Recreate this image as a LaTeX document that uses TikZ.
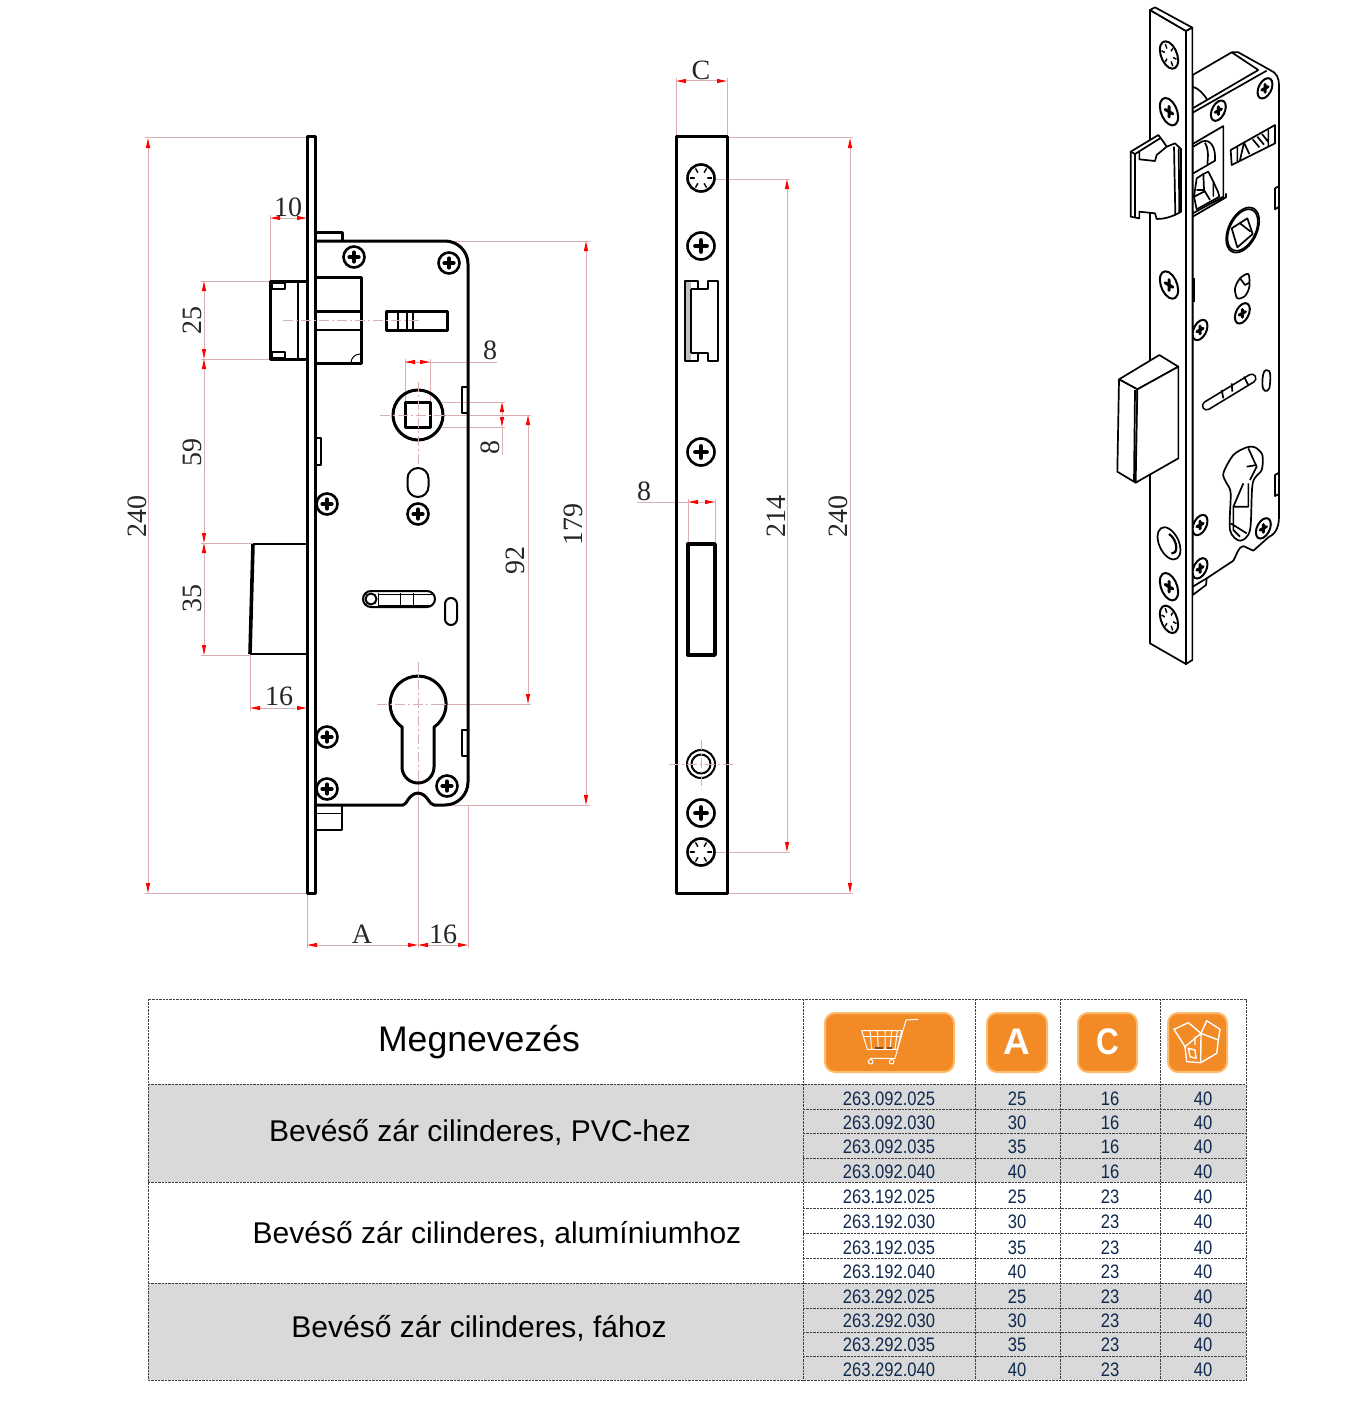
\documentclass[tikz,border=0pt]{standalone}
\usepackage{fontspec}
\setmainfont{Liberation Serif}
\newfontfamily\tabfont{Liberation Sans}
\newfontfamily\codefont[FakeStretch=0.85]{Liberation Sans}
\usetikzlibrary{arrows.meta}
\definecolor{dimpink}{HTML}{DCB0B0}
\definecolor{tabgrey}{HTML}{D9D9D9}
\definecolor{tabink}{HTML}{10294F}
\definecolor{btnfill}{HTML}{F28A26}
\definecolor{btnrim}{HTML}{FDBB6E}
\tikzset{
	lockline/.style={line width=1.5pt},
	midline/.style={line width=1pt},
	fineline/.style={line width=.5pt},
	isoline/.style={line width=.85pt},
	dimline/.style={dimpink,line width=.5pt},
	axisline/.style={dimpink,line width=.5pt,dash pattern=on 5pt off 1.5pt on 1pt off 1.5pt},
	dimlabel/.style={font=\fontsize{14}{14}\selectfont,text=black!85,inner sep=0pt},
	tabline/.style={black!75,line width=.35pt,dash pattern=on 1.2pt off .5pt},
	isoscope/.style={shift={(1100,0)},x=.16667pt,y=-.16667pt},
	btn/.style={fill=btnfill,draw=btnrim,line width=1pt,rounded corners=5pt},
	btnglyph/.style={white,line width=.5pt},
	ringline/.style={line width=1.3pt},
	crossline/.style={line width=2.2pt}
}
\newcommand{\phillips}[3][]{%
	\begin{scope}[shift={#2},#1,scale=#3]
		\draw[ringline,fill=white] (0,0) circle (1);
		\draw[crossline,line cap=round] (-.42,0)--(.42,0) (0,-.42)--(0,.42);
	\end{scope}}
\newcommand{\torx}[3][]{%
	\begin{scope}[shift={#2},#1,scale=#3]
		\draw[ringline,fill=white] (0,0) circle (1);
		\foreach \a in {0,60,...,300}{
			\draw[line width=.7pt] (\a:.82) -- (\a:.5);
			\fill (\a:.5) circle (.07);
		}
	\end{scope}}
\begin{document}
\begin{tikzpicture}[>={Stealth[red,length=5pt,width=2pt,inset=0pt]},x=.5pt,y=-.5pt,line join=round]
	\useasboundingbox (0,0) rectangle (1369,1413);
	% left view, dimensions
	\draw[dimline] (145,138)--(315,138) (145,893)--(307,893);
	\draw[dimline,<->] (148,138)--(148,893);
	\node[dimlabel,rotate=90] (dimLeftH) at (137,516) {240};
	\draw[dimline] (270,215)--(270,281) (201,281)--(270,281) (201,359)--(270,359);
	\draw[dimline,<->] (270,218)--(307,218);
	\node[dimlabel] (dimLatchOut) at (288,207) {10};
	\draw[dimline,<->] (204,281)--(204,359);
	\draw[dimline,<->] (204,359)--(204,543);
	\draw[dimline,<->] (204,543)--(204,655);
	\draw[dimline] (201,543)--(252,543) (201,655)--(250,655);
	\node[dimlabel,rotate=90] (dimLatchH) at (192,320) {25};
	\node[dimlabel,rotate=90] (dimGap) at (192,452) {59};
	\node[dimlabel,rotate=90] (dimBoltH) at (192,598) {35};
	\draw[dimline] (250,655)--(250,711);
	\draw[dimline,<->] (250,708)--(307,708);
	\node[dimlabel] (dimBoltOut) at (279,696) {16};
	\draw[dimline] (307,893)--(307,948) (468,806)--(468,948) (418,780)--(418,948);
	\draw[dimline,<->] (307,945)--(418,945);
	\draw[dimline,<->] (418,945)--(468,945);
	\node[dimlabel] (dimA) at (362,934) {A};
	\node[dimlabel] (dimBack) at (443,934) {16};
	\draw[dimline] (448,241)--(590,241) (448,805)--(590,805);
	\draw[dimline,<->] (586,241)--(586,805);
	\node[dimlabel,rotate=90] (dimBody) at (573,524) {179};
	\draw[dimline] (405,359)--(405,402) (430,359)--(430,402) (405,362)--(497,362);
	\draw[dimline,<->] (405,362)--(430,362);
	\node[dimlabel] (dimSqW) at (490,350) {8};
	\draw[dimline] (440,402)--(505,402) (440,427)--(505,427) (502,427)--(502,455);
	\draw[dimline,<->] (502,402)--(502,427);
	\node[dimlabel,rotate=90] (dimSqH) at (490,447) {8};
	\draw[dimline] (440,415)--(531,415) (440,704)--(531,704);
	\draw[dimline,<->] (528,415)--(528,704);
	\node[dimlabel,rotate=90] (dimCentre) at (515,560) {92};
	% left view, lock body
	\draw[lockline] (315,232)--(342,232)--(342,241);
	\draw[lockline] (315,241)--(445,241) arc[start angle=-90,end angle=0,radius=23]
		--(468,782) arc[start angle=0,end angle=90,radius=23]--(434,805)
		.. controls (429,805) and (428,794) .. (418,793)
		.. controls (408,794) and (407,805) .. (403,805)--(315,805);
	\draw[midline] (315,830)--(342,830)--(342,806);
	\draw[fineline] (315,813)--(342,813);
	\draw[lockline] (307,137) rectangle (315,893);
	% latch
	\draw[lockline] (307,281)--(270,281)--(270,359)--(307,359);
	\draw[midline] (298,281)--(298,359);
	\draw[midline] (272,283) rectangle (285,289) (272,352) rectangle (285,358);
	\draw[lockline] (315,277)--(361,277)--(361,363)--(315,363);
	\draw[lockline] (315,311)--(361,311);
	\draw[midline] (315,330)--(361,330);
	\draw[fineline] (351,363) arc[start angle=180,end angle=270,radius=9];
	\draw[lockline] (386,311) rectangle (447,330);
	\draw[midline] (398,311)--(398,330) (407,311)--(407,330) (413,311)--(413,330);
	\draw[axisline] (283,320)--(420,320);
	% bolt
	\draw[midline] (253,544)--(307,544) (250,654)--(307,654);
	\draw[line width=1.8pt] (253,544)--(250,654);
	% spindle
	\draw[lockline] (418,415) circle (25);
	\draw[lockline] (405,402) rectangle (430,427);
	\draw[axisline] (380,415)--(445,415) (418,382)--(418,470);
	\draw[midline] (462,387) rectangle (468,413);
	\draw[midline] (315,438) rectangle (321,465);
	\draw[midline] (418,468) arc[start angle=-90,end angle=0,radius=10.5] --(428.5,486.5)
		arc[start angle=0,end angle=180,radius=10.5] --(407.5,478.5)
		arc[start angle=180,end angle=270,radius=10.5];
	\foreach \sx/\sy in {354/257,449/263,327/504,418/514,327/737,327/789,447/786}
		\phillips{(\sx,\sy)}{10.5};
	% slot and keyhole
	\draw[midline] (371,591)--(427,591) arc[start angle=-90,end angle=90,radius=8]--(371,607)
		arc[start angle=90,end angle=270,radius=8];
	\draw[fineline] (378,594)--(432,594) (378,605)--(432,605) (378,593)--(378,606)
		(400,593)--(400,606) (413,593)--(413,606);
	\draw[midline] (371,599) circle (5.5);
	\draw[midline] (451,598) arc[start angle=-90,end angle=0,radius=6]--(457,619)
		arc[start angle=0,end angle=180,radius=6]--(445,604)
		arc[start angle=180,end angle=270,radius=6];
	\draw[lockline] (402,727) arc[start angle=125,end angle=415,radius=28]--(434,767)
		arc[start angle=0,end angle=180,radius=16]--cycle;
	\draw[axisline] (377,704)--(460,704) (418,662)--(418,780);
	\draw[midline] (462,730) rectangle (468,756);
	% middle view, dimensions
	\draw[dimline] (676,78)--(676,137) (727,78)--(727,137);
	\draw[dimline,<->] (676,81)--(727,81);
	\node[dimlabel] (dimC) at (701,70) {C};
	\draw[dimline] (727,138)--(853,138) (727,893)--(853,893);
	\draw[dimline,<->] (850,138)--(850,893);
	\node[dimlabel,rotate=90] (dimPlate) at (838,516) {240};
	\draw[dimline] (702,179)--(790,179) (702,852)--(790,852);
	\draw[dimline,<->] (787,179)--(787,852);
	\node[dimlabel,rotate=90] (dimHoles) at (776,516) {214};
	\draw[dimline] (637,502)--(688,502) (688,499)--(688,543) (715,499)--(715,543);
	\draw[dimline,<->] (688,502)--(715,502);
	\node[dimlabel] (dimBoltW) at (644,491) {8};
	% middle view, plate
	\draw[lockline] (676,137) rectangle (727,893);
	\foreach \sy in {246,452,813}
		\phillips{(701,\sy)}{13.5};
	\foreach \sy in {178,852}
		\torx{(701,\sy)}{13.5};
	\fill[black!25] (685,281) rectangle (691,361);
	\draw[midline] (685,281)--(698,281)--(698,289)--(708,289)--(708,281)--(718,281)--(718,361)
		--(708,361)--(708,353)--(698,353)--(698,361)--(685,361)--cycle;
	\draw[midline] (691,289)--(691,353) (691,289)--(698,289) (691,353)--(698,353);
	\draw[line width=1.7pt] (688,544) rectangle (715,655);
	\draw[midline] (701,764) circle (14);
	\draw[midline] (701,764) circle (9.5);
	\draw[axisline] (669,764)--(733,764) (701,740)--(701,790);
	% perspective view
	\begin{scope}[isoscope,ringline/.style={line width=1pt},crossline/.style={line width=1.5pt}]
		\draw[isoline,fill=white] (278,225)--(395,157)--(415,157)--(510,210)
			.. controls (530,218) and (537,235) .. (537,255)--(537,1550)
			.. controls (537,1590) and (520,1605) .. (505,1612)--(460,1652)--(430,1638)
			.. controls (415,1640) and (410,1665) .. (400,1682)--(320,1735)--(318,1755)--(278,1785)--cycle;
		\draw[isoline] (278,325)--(475,210) (278,338)--(500,212) (395,157)--(475,210)
			(278,260) .. controls (295,265) and (310,280) .. (322,300)
			(278,1760)--(320,1735);
		% latch opening
		\draw[isoline] (278,432)--(370,378)--(370,590)--(278,640) (278,650)--(378,592)--(378,580);
		\draw[isoline] (280,440)--(305,425) .. controls (330,415) and (345,440) .. (345,470)--(345,482)--(280,520);
		\draw[isoline] (315,428) .. controls (325,445) and (325,465) .. (322,492);
		\draw[isoline] (290,535)--(310,522)--(325,515)--(340,545)--(355,578)--(358,590)--(290,628)--(282,590)--cycle;
		\draw[isoline] (310,522)--(312,570)--(330,600) (290,570)--(312,570) (282,590)--(312,575) (340,545)--(340,590);
		% slot
		\draw[isoline] (392,450)--(525,375)--(525,430)--(395,495)--cycle;
		\draw[isoline] (412,440)--(412,485) (432,428)--(420,480) (432,428)--(448,462)
			(458,418)--(478,442) (472,410)--(492,434) (486,402)--(505,426) (505,388)--(505,440);
		\draw[isoline] (525,565)--(537,558)--(537,620)--(525,628)--cycle;
		\begin{scope}[shift={(428,690)},yslant=.55,xscale=.8]
			\draw[isoline] (0,0) circle (62);
			\draw[isoline] (0,0) circle (57);
		\end{scope}
		\draw[isoline] (395,685)--(442,655)--(458,702)--(412,742)--cycle;
		\draw[isoline] (420,670)--(452,695);
		\draw[isoline] plot[smooth cycle] coordinates {(445,822) (420,835) (405,865) (412,895) (435,888) (448,860)};
		\draw[isoline] (420,835)--(435,855)--(448,848);
		\foreach \sx/\sy in {495/265,355/332,427/940,300/990,300/1575,300/1705,490/1585}
			\phillips[yslant=.55,xscale=.8]{(\sx,\sy)}{28};
		% lower slot and cylinder hole
		\draw[line width=5pt,line cap=round] (320,1217)--(455,1135);
		\draw[white,line width=3.3pt,line cap=round] (320,1217)--(455,1135);
		\draw[isoline] (365,1170)--(370,1195) (395,1150)--(397,1175) (432,1130)--(445,1155);
		\draw[isoline] (498,1110) .. controls (515,1105) and (512,1140) .. (508,1165)
			.. controls (500,1180) and (487,1175) .. (487,1150) .. controls (487,1130) and (490,1112) .. (498,1110);
		\draw[isoline] plot[smooth cycle] coordinates {(440,1342) (400,1365) (370,1420) (380,1450) (392,1480) (390,1590) (420,1622) (450,1590) (458,1450) (485,1410) (487,1365) (465,1342)};
		\draw[isoline] (445,1345)--(470,1400)--(450,1440) (440,1400)--(470,1395) (430,1450)--(400,1520)--(400,1590)--(420,1610)
			(445,1450)--(445,1520)--(400,1520) (392,1570)--(440,1600);
		\draw[isoline] (525,1425)--(537,1418)--(537,1482)--(525,1488)--cycle;
		% plate
		\draw[isoline,fill=white] (150,30)--(258,93)--(258,1992)--(150,1930)--cycle;
		\draw[isoline,fill=white] (150,30)--(165,22)--(277,83)--(258,93)--cycle;
		\draw[isoline,fill=white] (258,93)--(277,83)--(277,1980)--(258,1992)--cycle;
		\draw[line width=1.2pt] (281,835)--(281,905);
		\foreach \sy in {335,855,1760}
			\phillips[yslant=-.58,xscale=.72]{(207,\sy)}{38};
		\foreach \sy in {165,1858}
			\torx[yslant=-.58,xscale=.72]{(207,\sy)}{38};
		\begin{scope}[shift={(207,1630)},yslant=-.58,xscale=.78]
			\draw[isoline] (0,0) circle (44);
			\draw[line width=1.1pt] (0,-28) arc[start angle=-90,end angle=70,radius=28];
		\end{scope}
		% latch
		\draw[isoline,fill=white] (92,455)--(175,405)--(190,425)--(200,440)--(225,430)--(243,447)--(243,635)
			.. controls (215,652) and (190,657) .. (170,657)--(165,640)--(118,635)--(118,655)--(92,650)--cycle;
		\draw[isoline] (105,462)--(105,652) (222,440)--(226,646) (236,445)--(238,640)
			(92,455)--(105,462)--(180,415)
			(118,455)--(118,478)--(165,483)--(170,465)--(200,440);
		% bolt
		\draw[isoline,fill=white] (57,1138)--(178,1065)--(235,1100)--(112,1168)--cycle;
		\draw[isoline,fill=white] (57,1138)--(52,1415)--(107,1448)--(112,1168)--cycle;
		\draw[isoline,fill=white] (112,1168)--(235,1100)--(235,1375)--(107,1448)--cycle;
		\draw[isoline] (105,1170)--(102,1445);
	\end{scope}
	% table
	\fill[tabgrey] (148,1084) rectangle (1246,1182);
	\fill[tabgrey] (148,1283) rectangle (1246,1380);
	\draw[tabline] (148,999) rectangle (1246,1380);
	\foreach \cx in {803,975,1060,1160}
		\draw[tabline] (\cx,999)--(\cx,1380);
	\foreach \ry in {1084,1182,1283}
		\draw[tabline] (148,\ry)--(1246,\ry);
	\foreach \ry in {1109,1133,1158,1208,1233,1258,1308,1332,1356}
		\draw[tabline] (803,\ry)--(1246,\ry);
	\node[font=\tabfont\fontsize{17.8}{18}\selectfont,inner sep=0pt] (headName) at (479,1042) {Megnevezés};
	\node[font=\tabfont\fontsize{15}{16}\selectfont,inner sep=0pt] (namePvc) at (480,1132) {Bevéső zár cilinderes, PVC-hez};
	\node[font=\tabfont\fontsize{15}{16}\selectfont,inner sep=0pt] (nameAlu) at (497,1234) {Bevéső zár cilinderes, alumíniumhoz};
	\node[font=\tabfont\fontsize{15}{16}\selectfont,inner sep=0pt] (nameWood) at (479,1328) {Bevéső zár cilinderes, fához};
	\foreach \i/\rowy/\code/\aval/\cval in {
		1/1099/263.092.025/25/16,2/1123/263.092.030/30/16,3/1147/263.092.035/35/16,4/1172/263.092.040/40/16,
		5/1197/263.192.025/25/23,6/1222/263.192.030/30/23,7/1248/263.192.035/35/23,8/1272/263.192.040/40/23,
		9/1297/263.292.025/25/23,10/1321/263.292.030/30/23,11/1345/263.292.035/35/23,12/1370/263.292.040/40/23}{
		\node[font=\codefont\fontsize{9.75}{10}\selectfont,text=tabink,inner sep=0pt] (code\i) at (889,\rowy) {\code};
		\node[font=\codefont\fontsize{9.75}{10}\selectfont,text=tabink,inner sep=0pt] (colA\i) at (1017,\rowy) {\aval};
		\node[font=\codefont\fontsize{9.75}{10}\selectfont,text=tabink,inner sep=0pt] (colC\i) at (1110,\rowy) {\cval};
		\node[font=\codefont\fontsize{9.75}{10}\selectfont,text=tabink,inner sep=0pt] (colBox\i) at (1203,\rowy) {40};
	}
	% orange buttons
	\draw[btn] (825,1013) rectangle (954,1072);
	\draw[btn] (987,1013) rectangle (1047,1072);
	\draw[btn] (1078,1013) rectangle (1137,1072);
	\draw[btn] (1168,1013) rectangle (1227,1072);
	\node[font=\tabfont\bfseries\fontsize{18.5}{19}\selectfont,text=white,inner sep=0pt] (btnA) at (1017,1042) {A};
	\node[font=\tabfont\bfseries\fontsize{18.5}{19}\selectfont,text=white,inner sep=0pt,xscale=.85] (btnC) at (1108,1042) {C};
	\begin{scope}[shift={(790,990)},x=.16667pt,y=-.16667pt]
		\draw[btnglyph] (385,88)--(348,90)--(315,205)--(240,205) (215,122)--(335,122)--(322,178)--(232,178)--cycle
			(240,122)--(245,178) (262,122)--(265,178) (285,122)--(285,178) (305,122)--(300,178) (322,122)--(315,178);
		\draw[btnglyph,line width=.8pt] (218,140)--(332,140);
		\draw[brown!60!black,line width=1pt] (255,174)--(280,174) (292,174)--(305,174);
		\draw[btnglyph] (242,215) circle (7) (305,215) circle (7);
		\draw[btnglyph,line width=.7pt] (1185,170)--(1190,215)--(1232,218)--(1280,190)--(1285,150)--(1233,130)--(1185,170)
			(1185,170)--(1152,118)--(1195,98)--(1233,130)--(1250,92)--(1290,118)--(1285,150)
			(1233,130)--(1232,218) (1215,140)--(1215,165) (1195,175)--(1200,200)--(1218,205)--(1215,180)--cycle;
	\end{scope}
\end{tikzpicture}
\end{document}
